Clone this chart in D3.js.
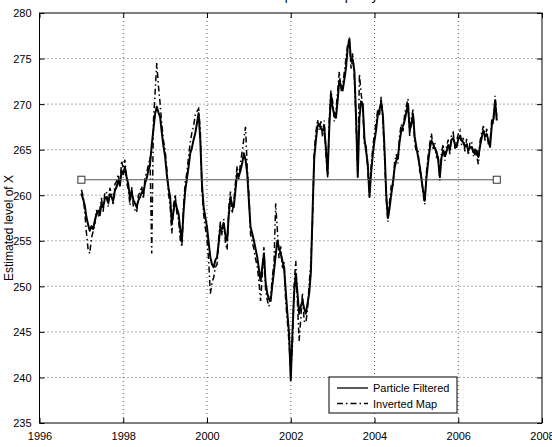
<!DOCTYPE html>
<head>
<meta charset="utf-8">
<style>
body { margin: 0; background: #fff; }
svg { display: block; font-family: "Liberation Sans", Arial, sans-serif; }
.grid line { stroke: #333; stroke-width: 0.8; stroke-dasharray: 1,3; }
.tick-lbl { font-size: 11px; fill: #000; }
</style>
</head>
<body>
<svg width="552" height="447"></svg>
<script src="https://d3js.org/d3.v7.min.js"></script>
<script>
// data: sampled every 0.04 yr starting 1997.00
var startYear = 1997.0, step = 0.04;

var particleFiltered = [
  // 1997
  260.2, 259.6, 258.9, 257.6, 256.8, 256.1, 256.6, 256.3, 257.2, 257.9, 258.3, 257.8, 259.1, 258.7, 259.6, 259.8, 259.2, 260.1, 259.8, 259.4, 260.5, 260.9, 261.6, 261.1, 262.7,
  // 1998
  262.3, 263.1, 262.0, 261.2, 259.8, 260.4, 259.5, 259.1, 258.7, 259.4, 259.8, 260.3, 260.2, 261.3, 261.9, 262.7, 263.4, 265.5, 267.2, 268.9, 269.7, 269.1, 268.6, 266.9, 265.4,
  // 1999
  264.2, 262.3, 260.8, 259.8, 256.9, 258.2, 259.4, 258.6, 258.0, 256.3, 255.0, 258.2, 260.5, 261.8, 263.1, 264.6, 265.2, 266.1, 266.8, 267.9, 269.0, 266.0, 261.2, 258.7, 257.6,
  // 2000
  256.5, 254.8, 253.2, 252.4, 252.1, 252.9, 253.2, 254.8, 256.5, 256.3, 256.9, 255.6, 255.0, 257.8, 259.8, 258.9, 258.7, 260.6, 262.4, 262.1, 262.7, 263.5, 264.6, 263.9, 262.4,
  // 2001
  259.4, 256.5, 255.8, 255.0, 254.1, 253.2, 251.9, 250.6, 252.1, 253.6, 250.4, 249.2, 248.6, 248.4, 250.1, 251.7, 253.4, 255.0, 254.2, 253.6, 252.8, 252.1, 249.5, 247.0, 244.8,
  // 2002
  239.7, 244.8, 249.2, 251.4, 249.3, 247.0, 247.8, 248.4, 247.6, 247.0, 248.1, 249.2, 251.5, 258.0, 264.0, 266.0, 267.6, 267.8, 267.3, 267.1, 267.4, 265.1, 262.3, 267.4, 271.1,
  // 2003
  269.6, 268.9, 268.5, 270.4, 272.6, 272.0, 271.5, 272.7, 274.0, 276.2, 277.1, 274.7, 274.9, 273.6, 268.5, 262.0, 268.5, 270.3, 270.0, 266.2, 264.8, 263.4, 259.8, 262.5, 264.5,
  // 2004
  266.0, 267.2, 268.9, 269.4, 270.2, 268.8, 265.0, 260.1, 257.5, 258.6, 260.1, 261.4, 263.0, 263.8, 264.2, 265.9, 267.1, 267.6, 268.2, 269.1, 270.0, 267.1, 267.8, 268.9, 266.4,
  // 2005
  265.3, 264.2, 263.2, 261.8, 260.5, 259.4, 261.9, 263.6, 265.1, 266.0, 265.6, 265.1, 264.8, 263.9, 262.0, 264.1, 264.9, 264.3, 264.8, 265.5, 265.0, 266.1, 266.3, 265.6, 265.3,
  // 2006
  266.1, 266.5, 266.0, 265.8, 265.3, 265.6, 264.9, 265.2, 265.3, 264.8, 264.5, 264.9, 264.2, 265.4, 266.3, 267.1, 266.5, 266.7, 266.0, 265.3, 267.6, 268.4, 270.4, 268.2
];

var invertedMap = [
  // 1997
  260.6, 259.9, 258.2, 255.9, 254.1, 253.6, 255.3, 256.0, 256.7, 258.4, 257.6, 258.3, 259.7, 258.2, 260.3, 260.4, 258.7, 260.8, 260.2, 258.9, 261.2, 261.5, 262.3, 260.8, 263.8,
  // 1998
  262.9, 263.9, 261.4, 260.7, 258.9, 260.9, 258.8, 258.4, 258.1, 260.0, 260.3, 261.0, 259.6, 262.0, 262.5, 263.3, 264.2, 253.6, 268.0, 271.2, 274.5, 272.0, 270.1, 267.8, 266.0,
  // 1999
  265.0, 262.9, 260.2, 258.8, 255.8, 258.9, 260.1, 258.0, 257.3, 255.2, 254.3, 258.9, 261.4, 262.5, 264.2, 265.8, 266.9, 267.6, 268.8, 269.2, 269.5, 267.2, 260.5, 257.9, 256.4,
  // 2000
  255.2, 252.8, 249.2, 250.4, 251.0, 252.1, 252.4, 255.3, 257.1, 255.6, 257.4, 254.8, 254.0, 258.6, 260.4, 258.0, 259.3, 261.4, 263.2, 261.8, 263.6, 264.8, 266.2, 267.5, 263.1,
  // 2001
  260.2, 255.7, 254.9, 254.1, 253.0, 252.2, 250.5, 248.4, 251.2, 254.3, 249.6, 248.5, 247.8, 248.9, 251.0, 252.6, 259.1, 256.2, 253.1, 254.4, 251.9, 252.8, 248.3, 246.1, 243.8,
  // 2002
  240.6, 243.5, 250.1, 252.8, 248.2, 244.0, 246.5, 249.3, 246.2, 246.0, 247.4, 250.3, 252.6, 257.1, 264.8, 266.9, 268.3, 267.2, 268.1, 266.4, 268.2, 264.6, 261.9, 268.3, 271.5,
  // 2003
  270.3, 268.1, 269.3, 271.4, 273.6, 271.4, 272.3, 273.5, 275.1, 276.5, 277.3, 273.9, 275.6, 272.8, 267.9, 262.5, 273.3, 271.2, 269.6, 265.5, 265.4, 262.6, 260.4, 263.2, 265.3,
  // 2004
  266.8, 268.0, 269.5, 268.8, 270.8, 268.2, 264.3, 259.6, 257.1, 259.3, 261.0, 260.8, 263.6, 264.5, 263.5, 266.6, 267.8, 267.0, 268.9, 269.8, 270.6, 266.5, 268.4, 269.4, 265.7,
  // 2005
  264.8, 264.9, 262.6, 262.3, 260.1, 259.0, 262.5, 264.3, 265.7, 266.8, 265.1, 265.8, 264.2, 264.4, 261.6, 264.7, 265.6, 263.8, 265.3, 266.1, 264.5, 266.7, 266.9, 265.1, 265.9,
  // 2006
  266.7, 267.1, 265.5, 266.3, 264.8, 266.2, 264.4, 265.8, 265.9, 264.3, 265.1, 264.3, 263.4, 265.9, 266.9, 267.6, 266.0, 267.3, 265.5, 265.8, 268.3, 267.9, 270.9, 268.7
];

var meanLevel = 261.7;
var xTicks = [1996, 1998, 2000, 2002, 2004, 2006, 2008];
var yTicks = [235, 240, 245, 250, 255, 260, 265, 270, 275, 280];
var legendLabels = ["Particle Filtered", "Inverted Map"];

var svg = d3.select("svg");
var pLeft = 39.5, pRight = 542, pTop = 13, pBottom = 423;

var x = d3.scaleLinear().domain([1996, 2008]).range([pLeft, pRight]);
var y = d3.scaleLinear().domain([235, 280]).range([pBottom, pTop]);

// title (mostly clipped at the top edge, as in the scan)
svg.append("text")
  .attr("x", (pLeft + pRight) / 2 + 10).attr("y", 0)
  .attr("text-anchor", "middle").attr("font-size", 13)
  .text("Estimated paths of liquidity");

// grid
var grid = svg.append("g").attr("class", "grid");
grid.selectAll(".gx").data(xTicks.slice(1, -1)).enter().append("line")
  .attr("x1", function(d) { return x(d); }).attr("x2", function(d) { return x(d); })
  .attr("y1", pTop).attr("y2", pBottom);
grid.selectAll(".gy").data(yTicks.slice(1, -1)).enter().append("line")
  .attr("y1", function(d) { return y(d); }).attr("y2", function(d) { return y(d); })
  .attr("x1", pLeft).attr("x2", pRight);

// axes with ticks pointing inwards
var fmt = d3.format("d");
var gb = svg.append("g").attr("transform", "translate(0," + pBottom + ")")
  .call(d3.axisBottom(x).tickValues(xTicks).tickFormat(fmt).tickSizeInner(-5).tickSizeOuter(0).tickPadding(9));
var gt = svg.append("g").attr("transform", "translate(0," + pTop + ")")
  .call(d3.axisTop(x).tickValues(xTicks).tickFormat("").tickSizeInner(-5).tickSizeOuter(0));
var gl = svg.append("g").attr("transform", "translate(" + pLeft + ",0)")
  .call(d3.axisLeft(y).tickValues(yTicks).tickFormat(fmt).tickSizeInner(-5).tickSizeOuter(0).tickPadding(8));
var gr = svg.append("g").attr("transform", "translate(" + pRight + ",0)")
  .call(d3.axisRight(y).tickValues(yTicks).tickFormat("").tickSizeInner(-5).tickSizeOuter(0));
[gb, gt, gl, gr].forEach(function(g) {
  g.select(".domain").remove();
  g.selectAll("line").attr("stroke", "#000");
  g.selectAll("text").attr("class", "tick-lbl").attr("font-family", null).attr("font-size", null);
});
gl.selectAll("text").attr("dy", "0.36em");

svg.append("rect")
  .attr("x", pLeft).attr("y", pTop).attr("width", pRight - pLeft).attr("height", pBottom - pTop)
  .attr("fill", "none").attr("stroke", "#000").attr("stroke-width", 1);

// y label
svg.append("text")
  .attr("transform", "translate(13," + 228 + ") rotate(-90)")
  .attr("text-anchor", "middle").attr("font-size", 12)
  .text("Estimated level of X");

// series
var line = d3.line()
  .x(function(d, i) { return x(startYear + i * step); })
  .y(function(d) { return y(d); });

svg.append("path").datum(invertedMap)
  .attr("d", line).attr("fill", "none").attr("stroke", "#000")
  .attr("stroke-width", 1.5).attr("stroke-dasharray", "6,3,1.5,3");

svg.append("path").datum(particleFiltered)
  .attr("d", line).attr("fill", "none").attr("stroke", "#000")
  .attr("stroke-width", 2).attr("stroke-linejoin", "round");

// mean line with square end markers
var lastYear = startYear + (particleFiltered.length - 1) * step;
var meanPts = [startYear, lastYear];
svg.append("line")
  .attr("x1", x(meanPts[0])).attr("x2", x(meanPts[1]))
  .attr("y1", y(meanLevel)).attr("y2", y(meanLevel))
  .attr("stroke", "#555").attr("stroke-width", 1.2);
svg.selectAll(".mk").data(meanPts).enter().append("rect")
  .attr("x", function(d) { return x(d) - 3.5; })
  .attr("y", y(meanLevel) - 3.5)
  .attr("width", 7).attr("height", 7)
  .attr("fill", "#fff").attr("stroke", "#333").attr("stroke-width", 1);

// legend
var lg = svg.append("g").attr("transform", "translate(329,377)");
lg.append("rect").attr("width", 128).attr("height", 36)
  .attr("fill", "#fff").attr("stroke", "#000").attr("stroke-width", 1);
var rows = lg.selectAll(".row").data(legendLabels).enter().append("g")
  .attr("transform", function(d, i) { return "translate(0," + (11 + i * 15.5) + ")"; });
rows.append("line").attr("x1", 8).attr("x2", 39).attr("y1", 0).attr("y2", 0)
  .attr("stroke", "#000").attr("stroke-width", 1.3)
  .attr("stroke-dasharray", function(d, i) { return i === 1 ? "6,3,1.5,3" : null; });
rows.append("text").attr("x", 44).attr("y", 4).attr("font-size", 11).text(function(d) { return d; });
</script>
</body>
